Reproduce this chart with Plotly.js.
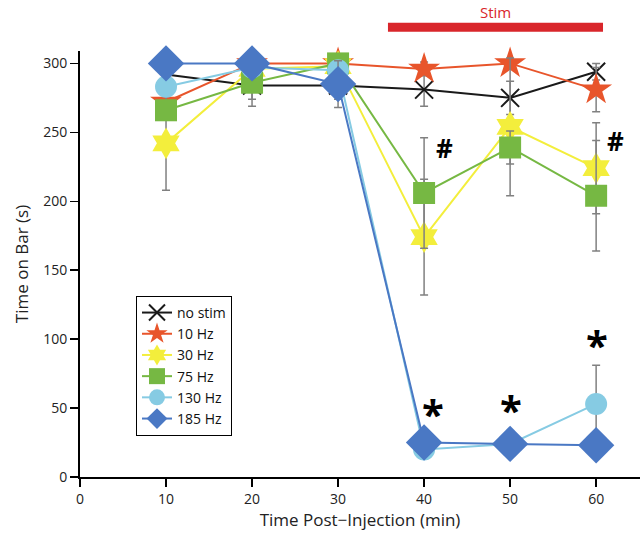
<!DOCTYPE html>
<html><head><meta charset="utf-8">
<script src="https://cdn.plot.ly/plotly-3.0.1.min.js"></script>
<style>html,body{margin:0;padding:0;background:#fff}#plot{width:640px;height:541px}</style>
</head><body><div id="plot"></div>
<script>
var times = [10, 20, 30, 40, 50, 60];
var seriesNames = ["no stim", "10 Hz", "30 Hz", "75 Hz", "130 Hz", "185 Hz"];
var noStim = [292, 284, 284, 281, 275, 294];
var noStimErr = [6, 15, 10, 12, 12, 6];
var hz10 = [272, 300, 300, 296, 300, 281];
var hz10Err = [0, 0, 0, 5, 0, 16];
var hz30 = [242, 296, 298, 174, 254, 224];
var hz30Err = [34, 0, 0, 42, 50, 33];
var hz75 = [266, 286, 300, 206, 239, 204];
var hz75Err = [0, 12, 0, 40, 12, 40];
var hz130 = [283, 297, 295, 20, 24, 53];
var hz130Err = [0, 0, 0, 7, 0, 28];
var hz185 = [300, 300, 285, 25, 24, 23];
var hz185Err = [0, 0, 17, 0, 0, 0];
var xTicks = [0, 10, 20, 30, 40, 50, 60];
var yTicks = [0, 50, 100, 150, 200, 250, 300];

var colors = ["#1a1a1a", "#e8552b", "#f3ee3c", "#76b843", "#86cbe3", "#4a78c4"];
var symbols = ["x-thin-open", "star", "hexagram", "square", "circle", "diamond"];
var sizes = [18, 24, 24, 22, 22, 28];
var ys = [noStim, hz10, hz30, hz75, hz130, hz185];
var errs = [noStimErr, hz10Err, hz30Err, hz75Err, hz130Err, hz185Err];

var traces = ys.map(function (y, i) {
  return {
    x: times, y: y, name: seriesNames[i], type: "scatter", mode: "lines+markers",
    line: {color: colors[i], width: 2},
    marker: {symbol: symbols[i], size: sizes[i], color: colors[i],
             line: {color: colors[i], width: i === 0 ? 2 : 0}},
    error_y: {type: "data", array: errs[i], visible: true, color: "#808080", thickness: 1.5, width: 4},
    cliponaxis: false
  };
});

var font = "Open Sans, sans-serif";
var layout = {
  width: 640, height: 541,
  margin: {l: 80, r: 0, t: 51, b: 64},
  paper_bgcolor: "#fff", plot_bgcolor: "#fff",
  font: {family: font, color: "#222", size: 13},
  showlegend: true,
  legend: {x: 0.1, y: 0.425, xanchor: "left", yanchor: "top", bordercolor: "#000", borderwidth: 1,
           bgcolor: "#fff", font: {family: font, size: 14, color: "#111"}, tracegroupgap: 0},
  xaxis: {range: [0, 65.1], tickvals: xTicks, ticks: "outside", ticklen: 8, tickwidth: 1.5, tickcolor: "#000",
          showline: true, linecolor: "#000", linewidth: 2, showgrid: false, zeroline: false,
          tickfont: {family: font, size: 14, color: "#222"},
          title: {text: "Time Post\u2212Injection (min)", font: {family: font, size: 17, color: "#222"}, standoff: 6}},
  yaxis: {range: [0, 309], tickvals: yTicks, ticks: "outside", ticklen: 8, tickwidth: 1.5, tickcolor: "#000",
          showline: true, linecolor: "#000", linewidth: 2, showgrid: false, zeroline: false,
          tickfont: {family: font, size: 14, color: "#222"},
          title: {text: "Time on Bar (s)", font: {family: font, size: 17, color: "#222"}, standoff: 10}},
  shapes: [{type: "line", xref: "x", yref: "paper", x0: 35.8, x1: 60.8, y0: 1.056, y1: 1.056,
            line: {color: "#d9262b", width: 9}}],
  annotations: [
    {x: 48.3, y: 1.091, xref: "x", yref: "paper", yanchor: "middle", text: "Stim", showarrow: false,
     font: {family: font, size: 15, color: "#d9262b"}},
    {x: 42.4, y: 239, text: "<b>#</b>", showarrow: false, font: {family: font, size: 26, color: "#000"}},
    {x: 62.3, y: 244, text: "<b>#</b>", showarrow: false, font: {family: font, size: 26, color: "#000"}},
    {x: 41.0, y: 46, text: "<b>*</b>", showarrow: false, font: {family: font, size: 40, color: "#000"}},
    {x: 50.1, y: 49, text: "<b>*</b>", showarrow: false, font: {family: font, size: 40, color: "#000"}},
    {x: 60.1, y: 96, text: "<b>*</b>", showarrow: false, font: {family: font, size: 40, color: "#000"}}
  ]
};
Plotly.newPlot("plot", traces, layout, {displayModeBar: false, staticPlot: true});
</script></body></html>
